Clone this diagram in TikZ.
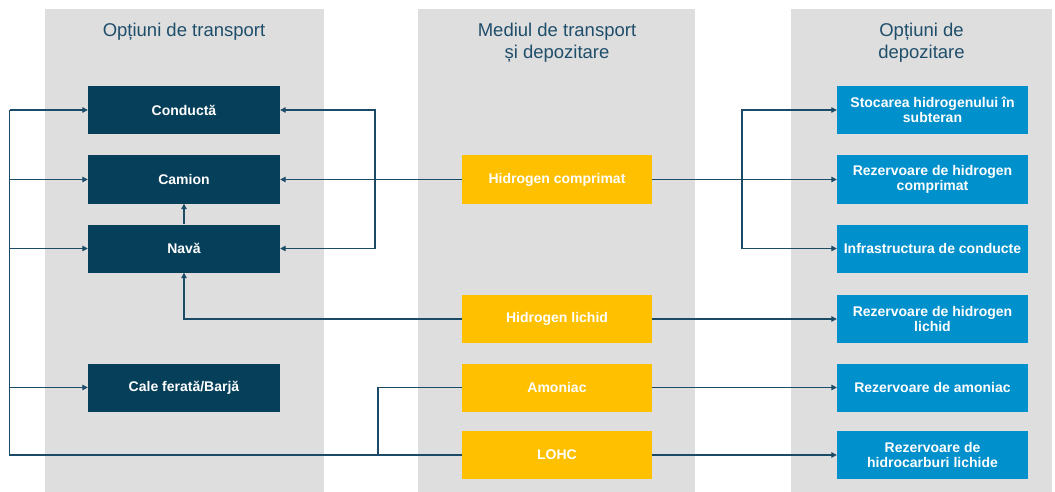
\documentclass[tikz,border=0pt]{standalone}
\usepackage{fontspec}
\setmainfont{Liberation Sans}
\usetikzlibrary{arrows.meta}
\definecolor{panelgray}{HTML}{DEDEDE}
\definecolor{navy}{HTML}{063F5A}
\definecolor{hyellow}{HTML}{FFC000}
\definecolor{hblue}{HTML}{0090CC}
\definecolor{linec}{HTML}{1C4B67}
\definecolor{titlec}{HTML}{1F4E6B}
\begin{document}
\begin{tikzpicture}[x=1pt,y=-1pt,
  panel/.style={fill=panelgray,draw=none},
  titletext/.style={text=titlec,font=\fontsize{18.5}{22}\selectfont,align=center,inner sep=0pt},
  boxbase/.style={minimum width=192pt,minimum height=48pt,inner sep=2pt,align=center,text=white,
    font=\fontsize{14}{15.5}\selectfont\bfseries},
  navybox/.style={boxbase,fill=navy},
  yellowbox/.style={boxbase,fill=hyellow,minimum width=190pt},
  bluebox/.style={boxbase,fill=hblue,minimum width=191pt},
  conn/.style={draw=linec,line width=1.2pt},
  arr/.style={conn,-{Triangle[length=5.5pt,width=5.5pt]}}
]
\path[use as bounding box] (0,0) rectangle (1055,492);
\fill[white] (0,0) rectangle (1055,492);
% panels
\path[panel] (45,9) rectangle (324,492);
\path[panel] (418,9) rectangle (695,492);
\path[panel] (791,9) rectangle (1052,492);
% titles
\node[titletext] (t1) at (184,32) {Opțiuni de transport};
\node[titletext] (t2) at (557,43) {Mediul de transport\\și depozitare};
\node[titletext] (t3) at (921.5,43) {Opțiuni de\\depozitare};
% left boxes
\node[navybox] (cond) at (184,110) {Conductă};
\node[navybox] (cam) at (184,179.5) {Camion};
\node[navybox] (nava) at (184,248.5) {Navă};
\node[navybox] (cale) at (184,387.5) {Cale ferată/Barjă};
% middle boxes
\node[yellowbox] (hc) at (557,179.5) {Hidrogen comprimat};
\node[yellowbox] (hl) at (557,319) {Hidrogen lichid};
\node[yellowbox] (am) at (557,387.5) {Amoniac};
\node[yellowbox] (lohc) at (557,455) {LOHC};
% right boxes
\node[bluebox] (sto) at (932.5,110) {Stocarea hidrogenului în\\subteran};
\node[bluebox] (rhc) at (932.5,179.5) {Rezervoare de hidrogen\\comprimat};
\node[bluebox] (inf) at (932.5,248.5) {Infrastructura de conducte};
\node[bluebox] (rhl) at (932.5,319) {Rezervoare de hidrogen\\lichid};
\node[bluebox] (ram) at (932.5,387.5) {Rezervoare de amoniac};
\node[bluebox] (rhid) at (932.5,455) {Rezervoare de\\hidrocarburi lichide};
% coordinates
\coordinate (jl) at (375,179.5);
\coordinate (jr) at (742,179.5);
\coordinate (jam) at (378,455);
\coordinate (lx) at (9.5,455);
% left connectors
\draw[arr] (hc.west) -- (cam.east);
\draw[arr] (jl) |- (cond.east);
\draw[arr] (jl) |- (nava.east);
\draw[arr] (nava.north) -- (cam.south);
\draw[arr] (hl.west) -| (nava.south);
\draw[conn] (lohc.west) -- (lx) -- (lx |- cond.west);
\draw[arr] (lx |- cond.west) -- (cond.west);
\draw[arr] (lx |- cam.west) -- (cam.west);
\draw[arr] (lx |- nava.west) -- (nava.west);
\draw[arr] (lx |- cale.west) -- (cale.west);
\draw[conn] (am.west) -| (jam);
% right connectors
\draw[arr] (hc.east) -- (rhc.west);
\draw[arr] (jr) |- (sto.west);
\draw[arr] (jr) |- (inf.west);
\draw[arr] (hl.east) -- (rhl.west);
\draw[arr] (am.east) -- (ram.west);
\draw[arr] (lohc.east) -- (rhid.west);
\end{tikzpicture}
\end{document}
